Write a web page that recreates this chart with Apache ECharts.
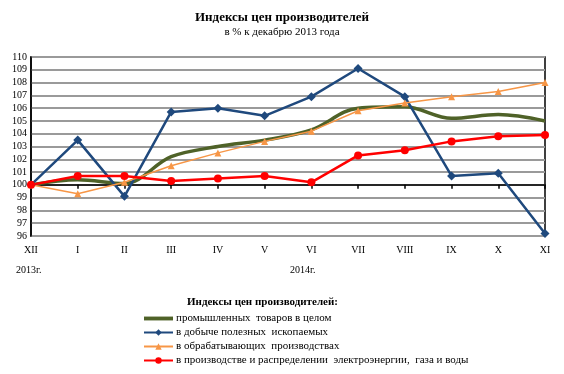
<!DOCTYPE html>
<html>
<head>
<meta charset="utf-8">
<script src="https://cdn.jsdelivr.net/npm/echarts@6/dist/echarts.min.js"></script>
<style>html,body{margin:0;padding:0;background:#fff}#c{width:564px;height:374px}</style>
</head>
<body>
<div id="c"></div>
<script>
var categories = ['XII','I','II','III','IV','V','VI','VII','VIII','IX','X','XI'];
var yTicks = [96,97,98,99,100,101,102,103,104,105,106,107,108,109,110];
var seriesNames = [
  'промышленных  товаров в целом',
  'в добыче полезных  ископаемых',
  'в обрабатывающих  производствах',
  'в производстве и распределении  электроэнергии,  газа и воды'
];
var industryTotal = [100, 100.4, 100.1, 102.2, 103.0, 103.5, 104.3, 106.0, 106.1, 105.2, 105.5, 105.0];
var mining        = [100, 103.5, 99.1, 105.7, 106.0, 105.4, 106.9, 109.1, 106.9, 100.7, 100.9, 96.2];
var manufacturing = [100, 99.3, 100.2, 101.5, 102.5, 103.4, 104.2, 105.8, 106.4, 106.9, 107.3, 108.0];
var utilities     = [100, 100.7, 100.7, 100.3, 100.5, 100.7, 100.2, 102.3, 102.7, 103.4, 103.8, 103.9];

var FONT = '"Liberation Serif", "Times New Roman", serif';
var chart = echarts.init(document.getElementById('c'), null, {renderer: 'canvas'});
chart.setOption({
  animation: false,
  backgroundColor: '#fff',
  textStyle: {fontFamily: FONT, color: '#000'},
  title: [
    {text: 'Индексы цен производителей', left: 'center', top: 6,
     textStyle: {fontFamily: FONT, fontSize: 13, fontWeight: 'bold', color: '#000'},
     subtext: 'в % к декабрю 2013 года', itemGap: 3,
     subtextStyle: {fontFamily: FONT, fontSize: 11, color: '#000'}},
    {text: 'Индексы цен производителей:', left: 182, top: 292,
     textStyle: {fontFamily: FONT, fontSize: 11, fontWeight: 'bold', color: '#000'}}
  ],
  graphic: [
    {type: 'text', left: 16, top: 265, style: {text: '2013г.', font: '10px ' + FONT, fill: '#000'}},
    {type: 'text', left: 290, top: 265, style: {text: '2014г.', font: '10px ' + FONT, fill: '#000'}}
  ],
  legend: {
    orient: 'vertical', left: 143, top: 312, height: 70, padding: 0, itemGap: 1, itemWidth: 29, itemHeight: 8,
    textStyle: {fontFamily: FONT, fontSize: 11, color: '#000', padding: [0,0,0,-2], lineHeight: 13},
    data: [
      {name: seriesNames[0], icon: 'path://M0,0L30,0L30,4L0,4Z'},
      {name: seriesNames[1]},
      {name: seriesNames[2]},
      {name: seriesNames[3]}
    ]
  },
  grid: {left: 31, right: 19, top: 57, bottom: 138, show: true, borderColor: '#000', borderWidth: 1.5, containLabel: false},
  xAxis: [
    {type: 'category', data: categories, boundaryGap: false, position: 'bottom',
     axisLine: {show: false}, axisTick: {show: false},
     axisLabel: {margin: 9, fontFamily: FONT, fontSize: 10, color: '#000'}},
    {type: 'category', data: categories, boundaryGap: false, position: 'bottom', offset: -51.3,
     axisLine: {show: true, lineStyle: {color: '#000', width: 1.5}},
     axisTick: {show: true, inside: false, length: 4, lineStyle: {color: '#000', width: 1.5}},
     axisLabel: {show: false}}
  ],
  yAxis: {
    type: 'value', min: yTicks[0], max: yTicks[yTicks.length - 1], interval: 1,
    axisLine: {show: true, lineStyle: {color: '#000', width: 1.5}},
    axisTick: {show: false},
    axisLabel: {margin: 4, fontFamily: FONT, fontSize: 10, color: '#000'},
    splitLine: {show: true, lineStyle: {color: '#9a9a9a', width: 2}}
  },
  series: [
    {name: seriesNames[0], type: 'line', data: industryTotal, smooth: 0.35, showSymbol: false, symbol: 'none',
     lineStyle: {color: '#4F6228', width: 3.5}, itemStyle: {color: '#4F6228'}},
    {name: seriesNames[1], type: 'line', data: mining, symbol: 'diamond', symbolSize: 9,
     lineStyle: {color: '#1F497D', width: 2.5}, itemStyle: {color: '#1F497D'}},
    {name: seriesNames[2], type: 'line', data: manufacturing, symbol: 'triangle', symbolSize: 7,
     lineStyle: {color: '#F79646', width: 1.5}, itemStyle: {color: '#F79646'}},
    {name: seriesNames[3], type: 'line', data: utilities, symbol: 'circle', symbolSize: 8,
     lineStyle: {color: '#FF0000', width: 2.5}, itemStyle: {color: '#FF0000'}}
  ]
});
</script>
</body>
</html>
